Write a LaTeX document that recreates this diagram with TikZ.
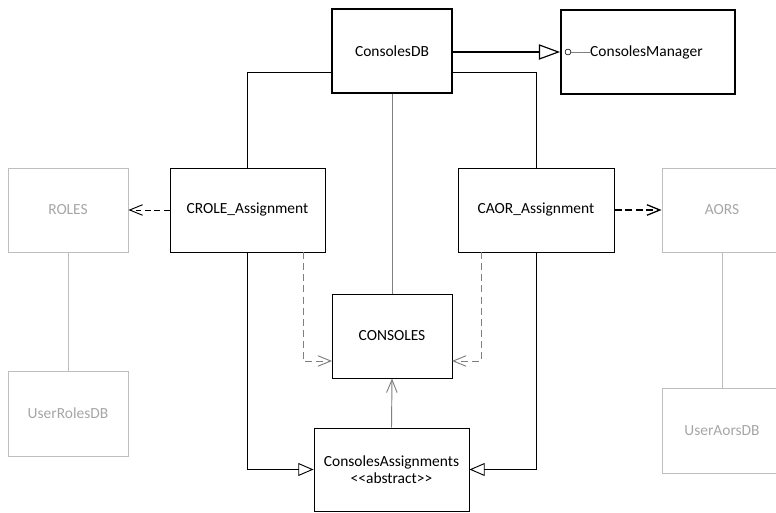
\documentclass[tikz,border=0pt]{standalone}
\usepackage{fontspec}
\setmainfont{Carlito}
\usetikzlibrary{arrows.meta}

\definecolor{boxgray}{HTML}{BEBEBE}
\definecolor{txtgray}{HTML}{A6A6A6}
\definecolor{linegray}{HTML}{7F7F7F}

\tikzset{
	cls/.style={draw=black, line width=0.8pt, rectangle, minimum width=120*0.03cm, minimum height=84*0.03cm, inner sep=0pt, font=\fontsize{13.2}{15}\selectfont},
	maincls/.style={cls, line width=1.6pt},
	ghost/.style={cls, draw=boxgray, text=txtgray},
	inherit/.style={-{Triangle[open,length=13pt,width=11pt]}, line width=0.8pt},
	uses/.style={-{Straight Barb[length=11pt,width=9pt]}, dash pattern=on 5pt off 3pt},
}

\begin{document}
\begin{tikzpicture}[x=0.03cm,y=-0.03cm]
	\useasboundingbox (0,0) rectangle (776,513);
	
	\node[maincls] (db) at (392,51){ConsolesDB};
	\node[maincls, minimum width=174*0.03cm] (mgr) at (648,52){};
	\node[ghost] (roles) at (68,210){ROLES};
	\node[cls, minimum width=155*0.03cm] (crole) at (247.5,210){CROLE\_Assignment};
	\node[cls, minimum width=156*0.03cm] (caor) at (536,210){CAOR\_Assignment};
	\node[ghost] (aors) at (722,210){AORS};
	\node[cls] (consoles) at (392,336){CONSOLES};
	\node[cls, minimum width=155*0.03cm, minimum height=83*0.03cm, align=center] (assign) at (391.5,469.5){ConsolesAssignments\\<{}<abstract>{}>};
	\node[ghost, minimum height=85*0.03cm] (urdb) at (68,413.5){UserRolesDB};
	\node[ghost, minimum height=85*0.03cm] (uadb) at (722,430.5){UserAorsDB};
	
	% interface lollipop
	\node[draw=black, circle, line width=0.5pt, minimum size=5pt, inner sep=0pt] (lol) at (568,52){};
	\node[right, inner sep=0pt, font=\fontsize{13.2}{15}\selectfont] (mgrtxt) at (590,52){ConsolesManager};
	\draw[linegray, line width=0.6pt] (lol) -- (mgrtxt);
	
	\coordinate (dbL) at (332,72);
	\coordinate (dbR) at (452,72);
	\coordinate (croleD) at (303,252);
	\coordinate (caorD) at (481,252);
	\coordinate (conL) at (332,361);
	\coordinate (conR) at (452,361);
	
	\draw[inherit, line width=1pt, -{Triangle[open,length=18pt,width=13pt]}] (db.east |- mgr.west) -- (mgr.west);
	\draw[line width=0.8pt] (dbL) -| (crole.north);
	\draw[line width=0.8pt] (dbR) -| (caor.north);
	\draw[linegray, line width=0.8pt] (db.south) -- (consoles.north);
	
	\draw[uses, line width=0.8pt] (crole.west) -- (roles.east);
	\draw[uses, line width=1.1pt, dash pattern=on 6pt off 3pt] (caor.east) -- (aors.west);
	\draw[boxgray, line width=0.8pt] (roles.south) -- (urdb.north);
	\draw[boxgray, line width=0.8pt] (aors.south) -- (uadb.north);
	
	\draw[uses, linegray, line width=0.8pt, dash pattern=on 6pt off 3.5pt] (croleD) |- (conL);
	\draw[uses, linegray, line width=0.8pt, dash pattern=on 6pt off 3.5pt] (caorD) |- (conR);
	
	\draw[inherit] (crole.south) |- (assign.west);
	\draw[inherit] (caor.south) |- (assign.east);
	\draw[linegray, line width=0.8pt, -{Straight Barb[length=11pt,width=9pt]}] (assign.north) -- (consoles.south);
	
\end{tikzpicture}
\end{document}
